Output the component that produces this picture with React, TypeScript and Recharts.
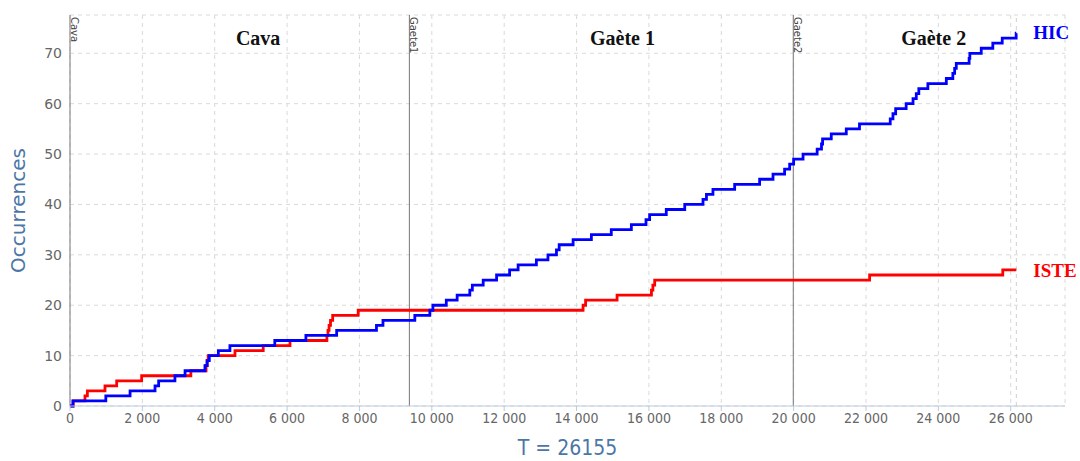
import React from 'react';
import { LineChart, Line, XAxis, YAxis, CartesianGrid, ReferenceLine, ReferenceDot } from 'recharts';

// cumulative occurrences
const hicTimes = [
  0, 80, 990, 1660, 2350, 2450, 2900, 3180, 3730, 3790, 3850, 4100, 4420, 5660, 6520, 7370,
  8470, 8650, 9530, 9945, 10030, 10400, 10700, 11050, 11120, 11420, 11790, 12150, 12385, 12890,
  13210, 13445, 13520, 13905, 14410, 14960, 15515, 15920, 16020, 16480, 16990, 17495, 17590,
  17770, 18370, 19060, 19430, 19750, 19890, 20000, 20260, 20650, 20770, 20800, 21040, 21455,
  21820, 22670, 22745, 22820, 23110, 23300, 23390, 23460, 23710, 24220, 24400, 24450, 24495,
  24850, 24870, 25185, 25505, 25765, 26150, 26155,
];
const hicCounts = [
  0, 1, 2, 3, 4, 5, 6, 7, 8, 9, 10, 11, 12, 13, 14, 15,
  16, 17, 18, 19, 20, 21, 22, 23, 24, 25, 26, 27, 28, 29,
  30, 31, 32, 33, 34, 35, 36, 37, 38, 39, 40, 41, 42,
  43, 44, 45, 46, 47, 48, 49, 50, 51, 52, 53, 54, 55,
  56, 57, 58, 59, 60, 61, 62, 63, 64, 65, 66, 67, 68,
  69, 70, 71, 72, 73, 74, 74,
];

const isteTimes = [
  0, 90, 414, 480, 967, 1290, 1980, 3340, 3760, 3790, 3820, 4560, 5340, 6080, 7100, 7130,
  7160, 7200, 7260, 7965, 14180, 14250, 15120, 16070, 16110, 16160, 22100, 25780, 26155,
];
const isteCounts = [
  0, 1, 2, 3, 4, 5, 6, 7, 8, 9, 10, 11, 12, 13, 14, 15,
  16, 17, 18, 19, 20, 21, 22, 23, 24, 25, 26, 27, 27,
];

const xTicks = [0, 2000, 4000, 6000, 8000, 10000, 12000, 14000, 16000, 18000, 20000, 22000, 24000, 26000];
const yTicks = [0, 10, 20, 30, 40, 50, 60, 70];

const phaseNames = ['Cava', 'Gaete1', 'Gaete2'];
const phaseStarts = [0, 9380, 19990];
const phaseTitles = ['Cava', 'Gaète 1', 'Gaète 2'];
const totalT = 26155;

// where the phase titles sit (data coords)
const titleAt = [5200, 15270, 23870];
const titleLevel = 73;

const hicData = hicTimes.map((t, i) => ({ t, n: hicCounts[i] }));
const isteData = isteTimes.map((t, i) => ({ t, n: isteCounts[i] }));

const fmt = (v: number) => String(v).replace(/\B(?=(\d{3})+(?!\d))/g, ' ');

const axisBlue = '#4b76a6';

const phaseTag = (text: string) => (props: any) => {
  const vb = props.viewBox || {};
  const x = vb.x + 1;
  const y = vb.y + 2;
  return (
    <text x={x} y={y} transform={`rotate(90 ${x} ${y})`} fontSize={10} fill="#444" fontFamily="DejaVu Sans">
      {text}
    </text>
  );
};

export default function App() {
  return (
    <div style={{ position: 'absolute', left: 0, top: 0, background: '#fff' }}>
      <LineChart width={1080} height={461} margin={{ top: 15, right: 15, bottom: 0, left: 0 }}>
        <CartesianGrid stroke="#dadada" strokeDasharray="4 4" />
        <XAxis
          dataKey="t"
          type="number"
          domain={[0, 27500]}
          ticks={xTicks}
          tickFormatter={fmt}
          height={55}
          stroke="#bccbdc"
          tickSize={5}
          tick={{ fill: '#666', fontSize: 14, fontFamily: 'DejaVu Sans Condensed' }}
          label={(p: any) => {
            const vb = p.viewBox;
            return (
              <text x={vb.x + vb.width / 2} y={vb.y + vb.height - 6} textAnchor="middle" fontSize={21} fill={axisBlue} fontFamily="DejaVu Sans Condensed">
                {`T = ${totalT}`}
              </text>
            );
          }}
        />
        <YAxis
          type="number"
          domain={[0, 77.6]}
          ticks={yTicks}
          width={70}
          axisLine={false}
          tickLine={false}
          tick={{ fill: '#666', fontSize: 14, fontFamily: 'DejaVu Sans' }}
          label={(p: any) => {
            const vb = p.viewBox;
            const cx = vb.x + 18;
            const cy = vb.y + vb.height / 2;
            return (
              <text x={cx} y={cy} transform={`rotate(-90 ${cx} ${cy})`} textAnchor="middle" dominantBaseline="central" fontSize={20} fill={axisBlue} fontFamily="DejaVu Sans">
                Occurrences
              </text>
            );
          }}
        />
        <ReferenceLine x={totalT} stroke="#d0d0d0" strokeDasharray="4 4" />
        {phaseStarts.map((s, i) => (
          <ReferenceLine key={phaseNames[i]} x={s} stroke="#777" strokeWidth={1} label={phaseTag(phaseNames[i])} />
        ))}
        {titleAt.map((t, i) => (
          <ReferenceDot
            key={phaseTitles[i]}
            x={t}
            y={titleLevel}
            r={0}
            shape={(p: any) => (
              <text x={p.cx} y={p.cy + 7} textAnchor="middle" fontSize={20} fontWeight="bold" fill="#111" fontFamily="Liberation Serif">
                {phaseTitles[i]}
              </text>
            )}
          />
        ))}
        <Line data={isteData} dataKey="n" type="stepAfter" stroke="#ff0000" strokeWidth={2.8} dot={false} isAnimationActive={false} />
        <Line data={hicData} dataKey="n" type="stepAfter" stroke="#0000ff" strokeWidth={2.8} dot={false} isAnimationActive={false} />
        <ReferenceDot
          x={totalT}
          y={hicCounts[hicCounts.length - 1]}
          r={0}
          shape={(p: any) => (
            <text x={p.cx + 17} y={p.cy + 6} fontSize={19} fontWeight="bold" fill="#0000ff" fontFamily="Liberation Serif">HIC</text>
          )}
        />
        <ReferenceDot
          x={totalT}
          y={isteCounts[isteCounts.length - 1]}
          r={0}
          shape={(p: any) => (
            <text x={p.cx + 17} y={p.cy + 7} fontSize={19} fontWeight="bold" fill="#ff0000" fontFamily="Liberation Serif">ISTE</text>
          )}
        />
      </LineChart>
    </div>
  );
}
